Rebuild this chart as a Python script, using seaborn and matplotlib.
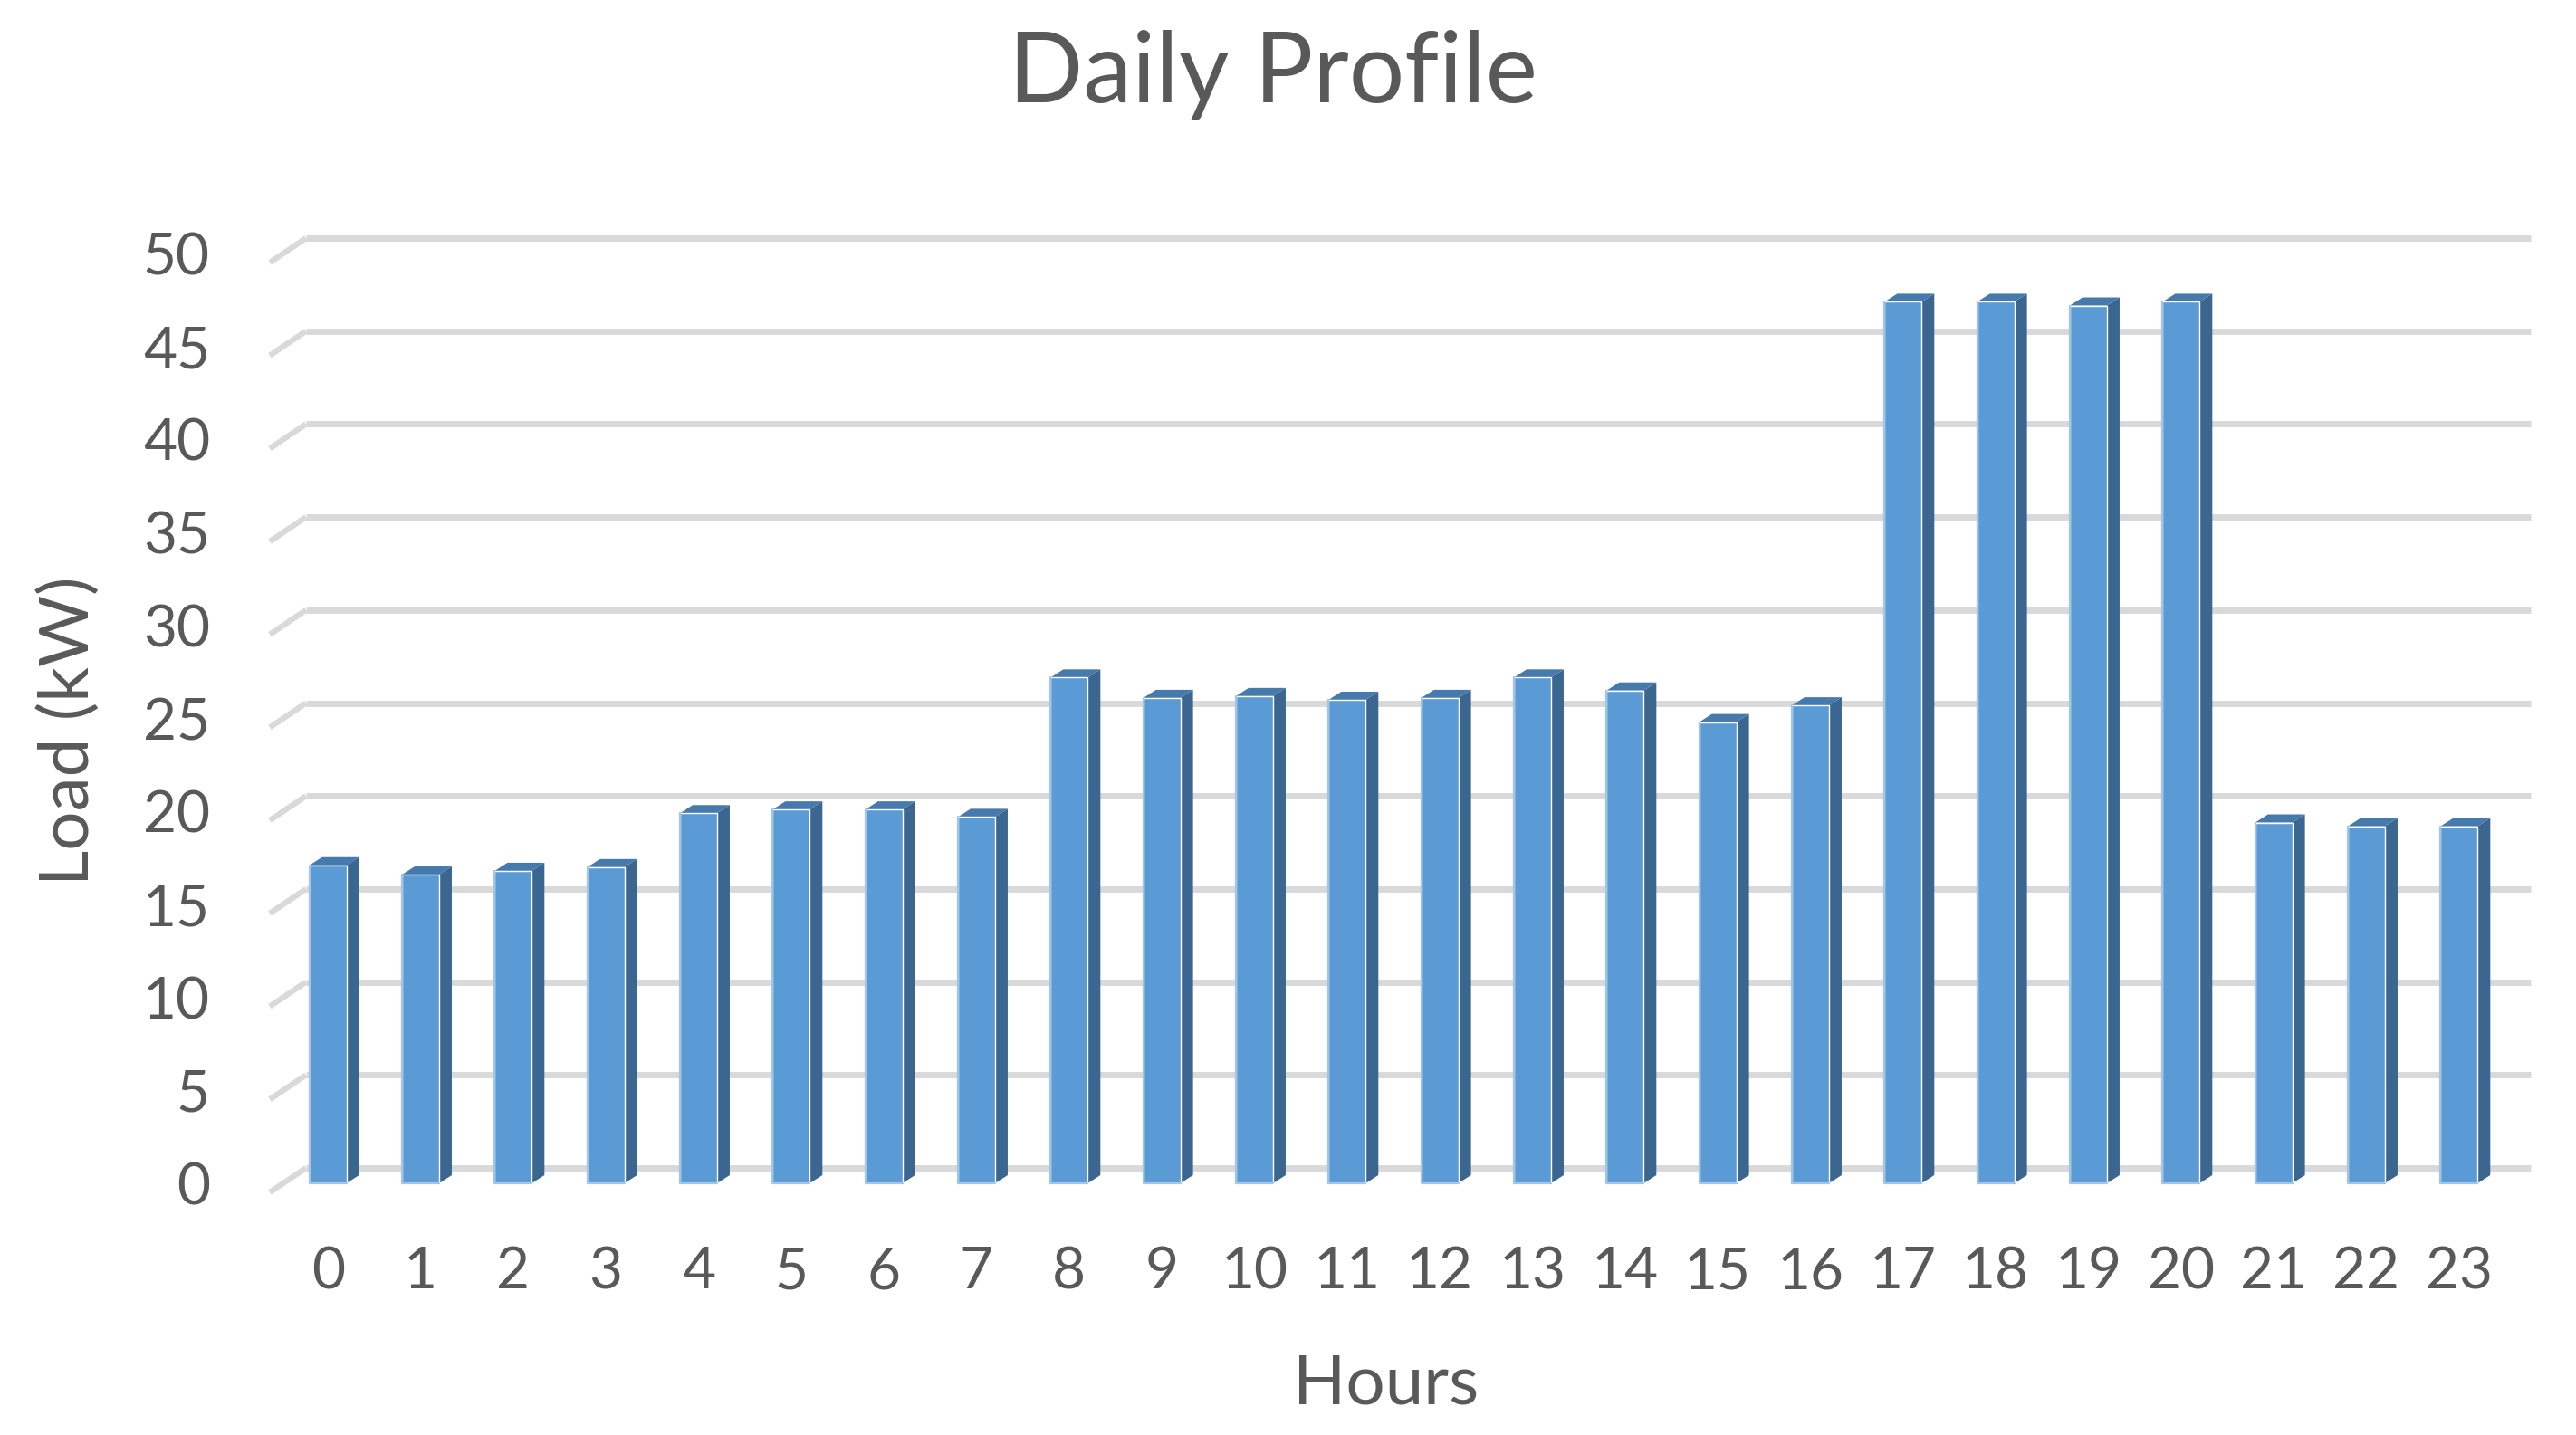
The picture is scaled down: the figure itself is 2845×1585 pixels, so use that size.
"""
Daily Profile - hourly load, Excel-style 3D column look.
"""

import numpy as np
import pandas as pd
import matplotlib
matplotlib.use("Agg")
import matplotlib.pyplot as plt
from matplotlib.patches import Polygon
import seaborn as sns

# ---------------------------------------------------------------------------
# Data
# ---------------------------------------------------------------------------
HOURS = list(range(24))
LOAD_KW = [17.1, 16.6, 16.8, 17.0, 19.9, 20.1, 20.1, 19.7,
           27.2, 26.1, 26.2, 26.0, 26.1, 27.2, 26.5, 24.8,
           25.7, 47.4, 47.4, 47.2, 47.4, 19.4, 19.2, 19.2]
Y_TICKS = [0, 5, 10, 15, 20, 25, 30, 35, 40, 45, 50]

TITLE = "Daily Profile"
X_LABEL = "Hours"
Y_LABEL = "Load (kW)"

# ---------------------------------------------------------------------------
# Style
# ---------------------------------------------------------------------------
FRONT = "#5b9bd5"
SIDE = "#3a6690"
TOP = "#467aad"
EDGE = "#a3c5e8"
GRID = "#d9d9d9"
TEXT = "#595959"

sns.set_theme(style="white")
plt.rcParams["font.family"] = ["Lato", "DejaVu Sans"]

W, H, DPI = 2845, 1585, 100
fig = plt.figure(figsize=(W / DPI, H / DPI), dpi=DPI)
ax_left, ax_right = 311, 2767
ax_bot, ax_top = 1307, 280
ax = fig.add_axes([ax_left / W, 1 - ax_bot / H,
                   (ax_right - ax_left) / W, (ax_bot - ax_top) / H])

df = pd.DataFrame({"hour": HOURS, "load": LOAD_KW})
sns.barplot(data=df, x="hour", y="load", color=FRONT, saturation=1,
            width=0.40, ax=ax, zorder=3)

ax.set_xlim(-0.5, len(HOURS) - 0.5)
ax.set_ylim(0, 50)

# pixel -> data conversion for the fake 3D depth
ux = len(HOURS) / (ax_right - ax_left)
uy = 50 / (ax_bot - ax_top)
aw = ax_right - ax_left

# back-wall gridlines with perspective stubs on the left
ytr = ax.get_yaxis_transform()
gx0, gx1, sx = (338 - ax_left) / aw, (2795 - ax_left) / aw, (298 - ax_left) / aw
for v in Y_TICKS:
    yb = v + 17 * uy
    ax.plot([gx0, gx1], [yb, yb], color=GRID, lw=5,
            transform=ytr, clip_on=False, zorder=1, solid_capstyle="butt")
    ax.plot([sx, gx0], [v - 10 * uy, yb], color=GRID, lw=4.5,
            transform=ytr, clip_on=False, zorder=1, solid_capstyle="butt")

# side face + top cap for each bar
dx, dy = 14 * ux, 9 * uy
for p in list(ax.patches):
    x, w, h = p.get_x(), p.get_width(), p.get_height()
    side = Polygon([(x + w, 0), (x + w, h), (x + w + dx, h + dy), (x + w + dx, dy)],
                   closed=True, facecolor=SIDE, edgecolor="none", zorder=2.9)
    top = Polygon([(x, h), (x + w, h), (x + w + dx, h + dy), (x + dx, h + dy)],
                  closed=True, facecolor=TOP, edgecolor="none", zorder=2.9)
    ax.add_patch(side)
    ax.add_patch(top)
    ax.plot([x, x], [0, h], color=EDGE, lw=1.6, zorder=3.1)
    ax.plot([x, x + w], [0, 0], color=EDGE, lw=1.6, zorder=3.1, clip_on=False)

for s in ax.spines.values():
    s.set_visible(False)
ax.grid(False)
ax.set_yticks(Y_TICKS)
ax.set_xticks(range(len(HOURS)))
ax.set_xticklabels([str(h) for h in HOURS])
ax.tick_params(axis="x", length=0, pad=50, labelsize=46, labelcolor=TEXT)
ax.tick_params(axis="y", length=0, pad=57, labelsize=46, labelcolor=TEXT)
ax.set_xlabel("")
ax.set_ylabel("")

fig.text(1406 / W, 1 - 82 / H, TITLE, ha="center", va="center",
         fontsize=78, color=TEXT)
fig.text(1531 / W, 1 - 1529 / H, X_LABEL, ha="center", va="center",
         fontsize=55, color=TEXT)
fig.text(76 / W, 1 - 807 / H, Y_LABEL, ha="center", va="center",
         rotation=90, fontsize=55, color=TEXT)

fig.savefig("out.png", dpi=DPI, facecolor="white")
